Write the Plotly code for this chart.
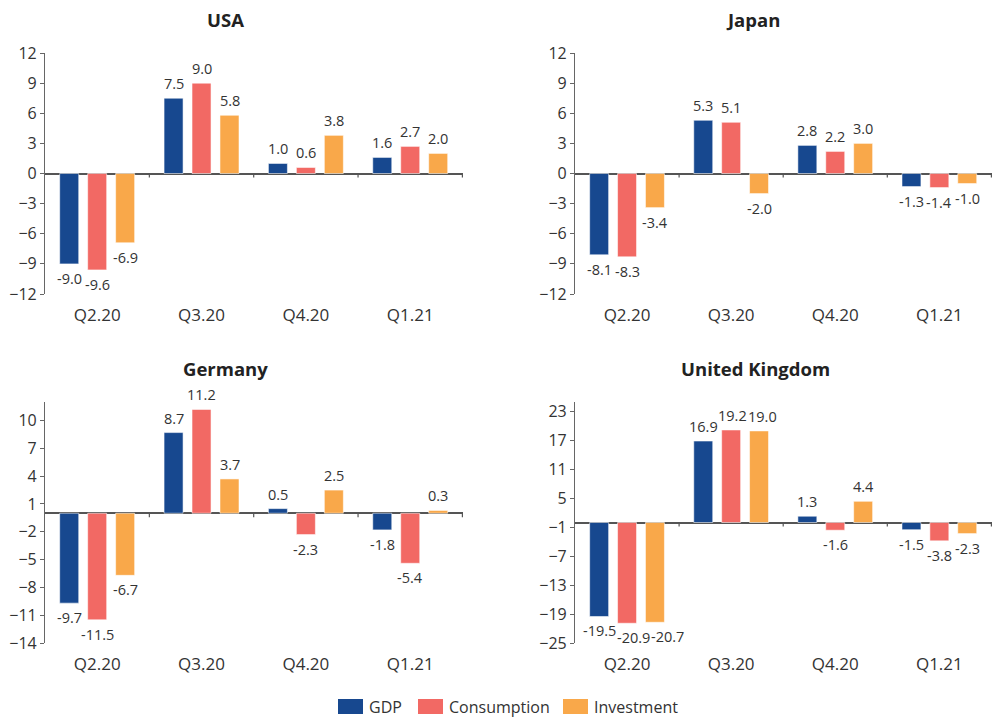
import plotly.graph_objects as go
from plotly.subplots import make_subplots

categories = ["Q2.20", "Q3.20", "Q4.20", "Q1.21"]
series_names = ["GDP", "Consumption", "Investment"]
countries = ["USA", "Japan", "Germany", "United Kingdom"]

usa_gdp = [-9.0, 7.5, 1.0, 1.6]
usa_cons = [-9.6, 9.0, 0.6, 2.7]
usa_inv = [-6.9, 5.8, 3.8, 2.0]
japan_gdp = [-8.1, 5.3, 2.8, -1.3]
japan_cons = [-8.3, 5.1, 2.2, -1.4]
japan_inv = [-3.4, -2.0, 3.0, -1.0]
germany_gdp = [-9.7, 8.7, 0.5, -1.8]
germany_cons = [-11.5, 11.2, -2.3, -5.4]
germany_inv = [-6.7, 3.7, 2.5, 0.3]
uk_gdp = [-19.5, 16.9, 1.3, -1.5]
uk_cons = [-20.9, 19.2, -1.6, -3.8]
uk_inv = [-20.7, 19.0, 4.4, -2.3]

# y-axis settings per panel: (range_min, range_max, tick0, dtick)
usa_axis = [-12, 12, -12, 3]
japan_axis = [-12, 12, -12, 3]
germany_axis = [-14, 12, -14, 3]
uk_axis = [-25, 25, -25, 6]

panel_data = [
    [usa_gdp, usa_cons, usa_inv],
    [japan_gdp, japan_cons, japan_inv],
    [germany_gdp, germany_cons, germany_inv],
    [uk_gdp, uk_cons, uk_inv],
]
panel_axes = [usa_axis, japan_axis, germany_axis, uk_axis]

colors = ["#17488F", "#F26964", "#F9A84A"]
FONT = "Open Sans"
TXT = "#333333"
W, H = 992, 717
LABEL_SIZE = 14.5
BARGAP = 0.196
BARGROUPGAP = 0.32

# panel domains in pixels
x_dom = [(45, 463), (575, 992), (45, 463), (575, 992)]
y_dom = [(53, 294), (53, 294), (402, 643), (402, 643)]

fig = make_subplots(rows=2, cols=2)

positions = [(1, 1), (1, 2), (2, 1), (2, 2)]
for p, (r, c) in enumerate(positions):
    for s, vals in enumerate(panel_data[p]):
        fig.add_trace(
            go.Bar(
                x=categories,
                y=vals,
                name=series_names[s],
                marker=dict(color=colors[s], line=dict(color="rgba(255,255,255,0.55)", width=1)),
                showlegend=False,
                hoverinfo="skip",
            ),
            row=r, col=c,
        )


def text_width(t, size):
    w = 0.0
    for ch in t:
        if ch == ".":
            w += 0.267
        elif ch == "-":
            w += 0.322
        else:
            w += 0.572
    return w * size


# value labels as annotations, with simple collision avoidance
for p in range(4):
    ax = "" if p == 0 else str(p + 1)
    x0, x1 = x_dom[p]
    yt, yb = y_dom[p]
    lo, hi, t0, dt = panel_axes[p]
    cat_w = (x1 - x0) / len(categories)
    slot = cat_w * (1 - BARGAP) / len(series_names)
    ppu = (yb - yt) / (hi - lo)
    for ci, cat in enumerate(categories):
        placed = []
        for s in range(len(series_names)):
            v = panel_data[p][s][ci]
            txt = f"{v:.1f}"
            w = text_width(txt, LABEL_SIZE)
            hgt = LABEL_SIZE * 0.85
            cx = x0 + cat_w * (ci + 0.5) + (s - (len(series_names) - 1) / 2) * slot
            y_end = yb - (v - lo) * ppu
            if v >= 0:
                box_top, box_bot = y_end - 3 - hgt, y_end - 3
            else:
                box_top, box_bot = y_end + 3, y_end + 3 + hgt
            shift = 0.0
            for (pl, pr, ptop, pbot) in placed:
                if box_top < pbot and box_bot > ptop:
                    overlap = pr - (cx + shift - w / 2)
                    if overlap > 0:
                        shift += overlap + 1
            placed.append((cx + shift - w / 2, cx + shift + w / 2, box_top, box_bot))
            fig.add_annotation(
                xref="x" + ax, yref="y" + ax,
                x=cat, y=v,
                xshift=(s - (len(series_names) - 1) / 2) * slot + shift,
                yshift=3 if v >= 0 else -3,
                xanchor="center", yanchor="bottom" if v >= 0 else "top",
                text=txt, showarrow=False,
                font=dict(family=FONT, size=LABEL_SIZE, color=TXT),
            )

for p in range(4):
    ax = "" if p == 0 else str(p + 1)
    x0, x1 = x_dom[p]
    yt, yb = y_dom[p]
    lo, hi, t0, dt = panel_axes[p]
    fig.layout["xaxis" + ax].update(
        domain=[x0 / W, x1 / W], automargin=False,
        showgrid=False, showline=False, zeroline=False, ticks="",
        tickfont=dict(family=FONT, size=17, color=TXT),
        ticklabelstandoff=9,
        fixedrange=True,
    )
    fig.layout["yaxis" + ax].update(
        domain=[1 - yb / H, 1 - yt / H], automargin=False,
        range=[lo, hi], tick0=t0, dtick=dt, tickmode="linear",
        showgrid=False, showline=True, linecolor="#666666", linewidth=1.2,
        ticks="outside", ticklen=4, tickcolor="#666666", tickwidth=1,
        zeroline=True, zerolinecolor="#555555", zerolinewidth=1.5,
        tickfont=dict(family=FONT, size=16, color=TXT),
        fixedrange=True,
    )
    # small tick marks at category boundaries on the zero line
    for i in range(1, len(categories) + 1):
        fig.add_shape(
            type="line", xref="x" + ax, yref="y" + ax,
            x0=i - 0.5, x1=i - 0.5,
            ysizemode="pixel", yanchor=0, y0=0, y1=-4,
            line=dict(color="#555555", width=1.2),
        )

# panel titles
title_pos = [(225, 20), (753, 20), (225, 369), (755, 369)]
for p, name in enumerate(countries):
    tx, ty = title_pos[p]
    fig.add_annotation(
        text="<b>" + name + "</b>", xref="paper", yref="paper",
        x=tx / W, y=1 - ty / H, xanchor="center", yanchor="middle",
        showarrow=False, font=dict(family=FONT, size=18.5, color="#222222"),
    )

# legend (custom, wide swatches)
legend_x = [338, 418, 563]
for s, name in enumerate(series_names):
    lx = legend_x[s]
    fig.add_shape(
        type="rect", xref="paper", yref="paper",
        x0=lx / W, x1=(lx + 25) / W, y0=1 - 714 / H, y1=1 - 699 / H,
        fillcolor=colors[s], line=dict(width=0),
    )
    fig.add_annotation(
        text=name, xref="paper", yref="paper",
        x=(lx + 29) / W, y=1 - 707 / H, xanchor="left", yanchor="middle",
        showarrow=False, font=dict(family=FONT, size=16, color=TXT),
    )

fig.update_layout(
    template="none",
    width=W, height=H,
    margin=dict(l=0, r=0, t=0, b=0, pad=0, autoexpand=False),
    paper_bgcolor="white", plot_bgcolor="white",
    barmode="group", bargap=BARGAP, bargroupgap=BARGROUPGAP,
    showlegend=False,
    font=dict(family=FONT, color=TXT),
)

fig.write_html("out.html")
